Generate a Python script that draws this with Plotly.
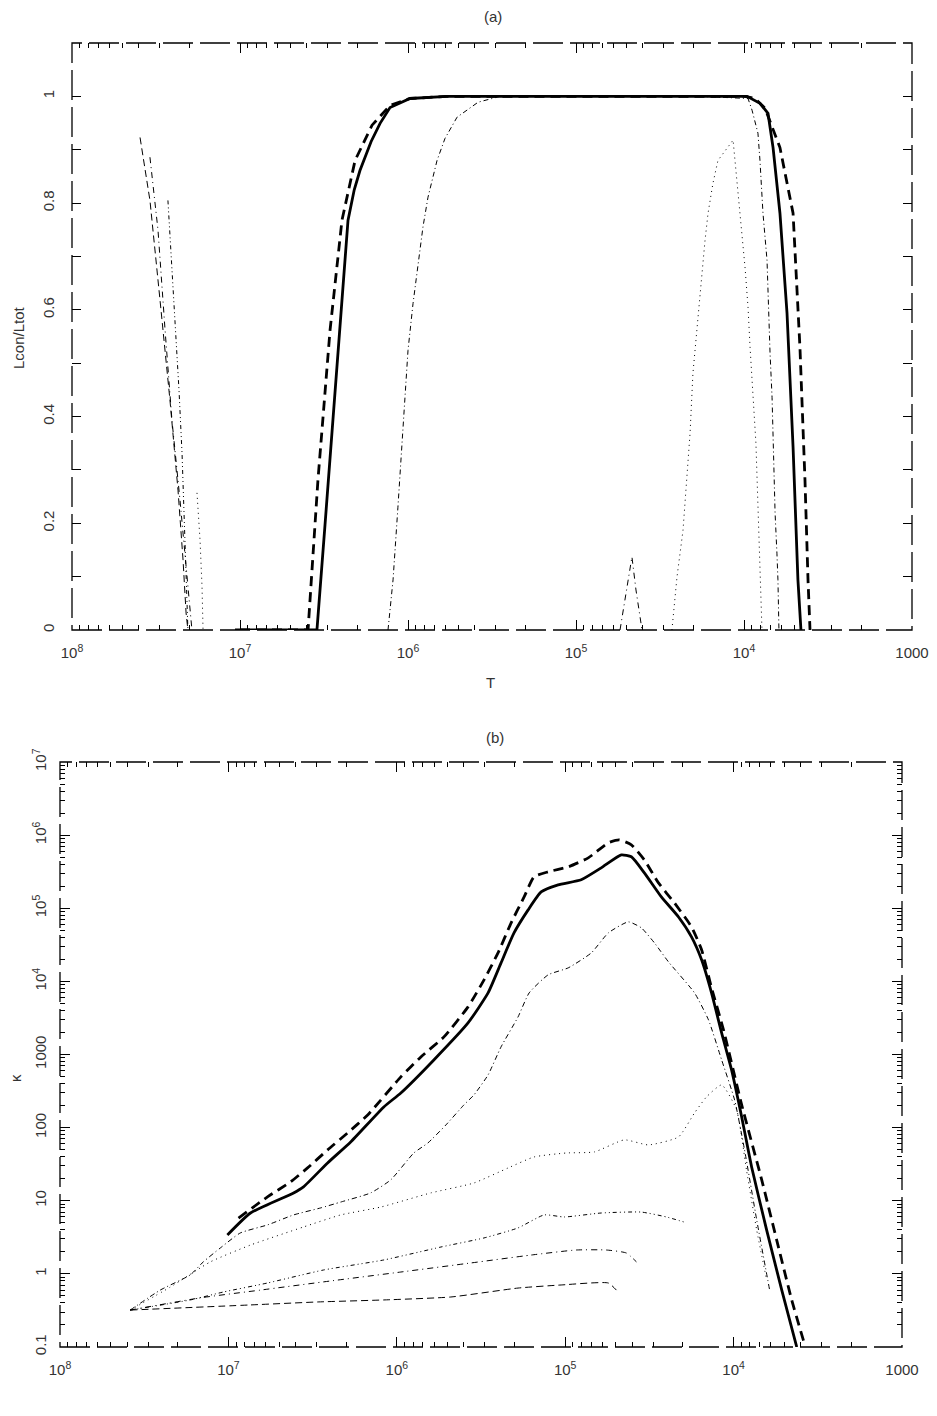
import numpy as np
import plotly.graph_objects as go

# ---------------- Panel (a): Lcon/Ltot versus T (values given as log10 T) ----------------
a_solid_logT = [7.03, 6.542, 6.494, 6.446, 6.357, 6.320, 6.286, 6.220, 6.167, 6.107, 5.988, 5.768, 4.857,
                3.982, 3.905, 3.857, 3.827, 3.786, 3.744, 3.708, 3.679, 3.661]
a_solid_y = [0, 0, 0.197, 0.393, 0.768, 0.825, 0.861, 0.915, 0.949, 0.979, 0.996, 1.0, 1.0,
             1.0, 0.987, 0.968, 0.904, 0.781, 0.594, 0.343, 0.094, 0]

a_dash_logT = [7.0, 6.595, 6.536, 6.464, 6.393, 6.315, 6.214, 6.107, 5.988, 5.768, 4.857,
               3.994, 3.935, 3.875, 3.786, 3.708, 3.667, 3.637, 3.619, 3.607]
a_dash_y = [0, 0, 0.281, 0.562, 0.768, 0.880, 0.946, 0.983, 0.996, 1.0, 1.0,
            1.0, 0.996, 0.978, 0.904, 0.781, 0.530, 0.281, 0.094, 0]

a_P_logT = [6.119, 6.089, 6.060, 6.036, 6.018, 6.000, 5.970, 5.946, 5.911, 5.881, 5.827,
            5.780, 5.708, 5.583, 5.452, 4.262, 3.976, 3.952, 3.917, 3.905, 3.887, 3.863,
            3.857, 3.845, 3.833, 3.827, 3.815, 3.804, 3.798, 3.792]
a_P_y = [0, 0.094, 0.230, 0.343, 0.431, 0.524, 0.612, 0.674, 0.755, 0.811, 0.880,
         0.921, 0.961, 0.989, 1.0, 1.0, 0.996, 0.974, 0.931, 0.880, 0.781, 0.693,
         0.618, 0.519, 0.436, 0.343, 0.219, 0.144, 0.094, 0]

a_Q_logT = [7.256, 7.238, 7.226, 7.220, None, 4.429, 4.399, 4.363, 4.321, 4.304, 4.262,
            4.232, 4.214, 4.185, 4.155, 4.065, 3.994, 3.976, 3.964, 3.946, 3.929, 3.893]
a_Q_y = [0.257, 0.169, 0.081, 0, None, 0, 0.099, 0.187, 0.369, 0.481, 0.631,
         0.730, 0.781, 0.837, 0.880, 0.918, 0.680, 0.605, 0.530, 0.431, 0.350, 0]

a_R_logT = [7.429, 7.405, 7.381, 7.363, 7.345, 7.333, 7.321, 7.310]
a_R_y = [0.805, 0.674, 0.562, 0.449, 0.331, 0.206, 0.094, 0]

a_S_logT = [7.536, 7.488, 7.446, 7.405, 7.357, 7.321, 7.298, 7.286, None,
            4.738, 4.667, 4.643, 4.619, 4.607]
a_S_y = [0.886, 0.749, 0.562, 0.393, 0.243, 0.112, 0.032, 0, None,
         0, 0.137, 0.075, 0.028, 0]

a_T_logT = [7.595, 7.536, 7.476, 7.417, 7.369, 7.339, 7.321, 7.310]
a_T_y = [0.923, 0.805, 0.618, 0.431, 0.262, 0.131, 0.032, 0]

# ---------------- Panel (b): kappa versus T ----------------
b_solid_logT = [7.006, 6.869, 6.613, 6.554, 6.411, 6.274, 6.077, 5.976, 5.780, 5.577, 5.458,
                5.381, 5.304, 5.220, 5.143, 5.042, 4.905, 4.786, 4.667, 4.607, 4.530, 4.429,
                4.327, 4.250, 4.190, 4.131, 4.071, 4.012, 3.952, 3.893, 3.804, 3.714, 3.625]
b_solid_k = [3.4, 6.8, 12.8, 15.5, 32.9, 63.7, 192, 298, 843, 2704, 6960,
             17900, 46000, 95000, 167000, 209000, 245000, 357000, 537000, 505000, 305000, 143000,
             76000, 40600, 19700, 6960, 1974, 615, 140, 29, 4.0, 0.60, 0.10]

b_dash_logT = [6.940, 6.768, 6.631, 6.530, 6.411, 6.292, 6.173, 5.976, 5.857, 5.720, 5.577,
               5.482, 5.399, 5.321, 5.244, 5.185, 5.101, 4.982, 4.863, 4.744, 4.679, 4.607,
               4.530, 4.446, 4.351, 4.250, 4.190, 4.131, 4.060, 3.952, 3.833, 3.744, 3.655, 3.577]
b_dash_k = [5.8, 11.3, 18.1, 28.1, 49.6, 84.6, 149, 494, 927, 1741, 4477,
            10490, 24500, 63100, 143000, 269000, 315000, 368000, 489000, 785000, 862000, 737000,
            459000, 222000, 118000, 55700, 27000, 8150, 2170, 205, 19.3, 2.9, 0.44, 0.106]

b_P_logT = [7.583, 7.405, 7.226, 7.149, 7.048, 6.929, 6.768, 6.613, 6.452, 6.333, 6.155,
            6.036, 5.899, 5.815, 5.708, 5.601, 5.542, 5.458, 5.381, 5.280, 5.214, 5.101,
            4.982, 4.845, 4.744, 4.625, 4.548, 4.470, 4.387, 4.232, 4.149, 4.071, 3.994,
            3.935, 3.863, 3.786]
b_P_k = [0.32, 0.60, 0.97, 1.46, 2.26, 3.63, 4.67, 6.4, 7.98, 9.6, 12.8,
         19.3, 45, 61.8, 109, 205, 280, 526, 1271, 3266, 6960, 12300,
         15300, 24500, 46000, 65100, 54000, 33600, 18500, 6960, 2970, 843, 239,
         49.6, 5.5, 0.60]

b_Q_logT = [7.583, 7.345, 7.107, 6.869, 6.554, 6.333, 6.095, 5.798, 5.542, 5.339, 5.185,
            4.994, 4.827, 4.649, 4.506, 4.327, 4.232, 4.161, 4.071, 3.982, 3.923, 3.863, 3.804]
b_Q_k = [0.32, 0.66, 1.46, 2.48, 4.38, 6.4, 8.2, 12.8, 17.5, 28.1, 39.7,
         45, 46.5, 68, 58, 74.6, 159, 263, 384, 175, 26, 4.0, 0.83]

b_R_logT = [7.583, 7.226, 7.030, 6.768, 6.435, 6.077, 5.738, 5.482, 5.280, 5.125, 5.006,
            4.786, 4.548, 4.399, 4.292]
b_R_k = [0.32, 0.44, 0.565, 0.75, 1.13, 1.55, 2.33, 3.10, 4.25, 6.4, 6.0,
         6.8, 7.0, 6.0, 5.1]

b_S_logT = [7.583, 7.167, 6.810, 6.393, 5.976, 5.560, 5.202, 4.935, 4.756, 4.637, 4.577]
b_S_k = [0.32, 0.47, 0.60, 0.80, 1.06, 1.41, 1.81, 2.12, 2.12, 1.93, 1.46]

b_T_logT = [7.583, 6.869, 6.470, 6.077, 5.679, 5.280, 5.024, 4.744, 4.696]
b_T_k = [0.32, 0.376, 0.413, 0.44, 0.483, 0.64, 0.705, 0.75, 0.60]

x_tick_vals = [1e8, 1e7, 1e6, 1e5, 1e4, 1e3]
x_tick_text = ["10<sup>8</sup>", "10<sup>7</sup>", "10<sup>6</sup>", "10<sup>5</sup>",
               "10<sup>4</sup>", "1000"]
a_y_tick_vals = [0, 0.2, 0.4, 0.6, 0.8, 1.0]
a_y_tick_text = ["0", "0.2", "0.4", "0.6", "0.8", "1"]
b_y_tick_vals = [0.1, 1, 10, 100, 1000, 1e4, 1e5, 1e6, 1e7]
b_y_tick_text = ["0.1", "1", "10", "100", "1000", "10<sup>4</sup>", "10<sup>5</sup>",
                 "10<sup>6</sup>", "10<sup>7</sup>"]


def to_T(vals):
    return [None if v is None else 10 ** v for v in vals]


BLACK = "#000000"
styles = {
    "solid": dict(color=BLACK, width=2.8),
    "dash": dict(color=BLACK, width=2.8, dash="10px,6px"),
    "P": dict(color=BLACK, width=1, dash="5px,3px,1px,3px"),
    "Q": dict(color=BLACK, width=1, dash="1px,4px"),
    "R": dict(color=BLACK, width=1, dash="4px,3px,1px,3px,1px,3px"),
    "S": dict(color=BLACK, width=1, dash="6px,4px,1px,4px"),
    "T": dict(color=BLACK, width=1, dash="7px,4px"),
}

fig = go.Figure()

panel_a = [
    (a_T_logT, a_T_y, "T"), (a_S_logT, a_S_y, "S"), (a_R_logT, a_R_y, "R"),
    (a_Q_logT, a_Q_y, "Q"), (a_P_logT, a_P_y, "P"),
    (a_dash_logT, a_dash_y, "dash"), (a_solid_logT, a_solid_y, "solid"),
]
for lx, yy, st in panel_a:
    fig.add_trace(go.Scatter(x=to_T(lx), y=yy, mode="lines", line=styles[st],
                             xaxis="x", yaxis="y", showlegend=False, connectgaps=False))

panel_b = [
    (b_T_logT, b_T_k, "T"), (b_S_logT, b_S_k, "S"), (b_R_logT, b_R_k, "R"),
    (b_Q_logT, b_Q_k, "Q"), (b_P_logT, b_P_k, "P"),
    (b_dash_logT, b_dash_k, "dash"), (b_solid_logT, b_solid_k, "solid"),
]
for lx, yy, st in panel_b:
    ln = dict(styles[st])
    ln.update(shape="spline", smoothing=0.5)
    fig.add_trace(go.Scatter(x=to_T(lx), y=yy, mode="lines", line=ln,
                             xaxis="x2", yaxis="y2", showlegend=False))

W, H = 937, 1416
FONT = dict(family="Liberation Sans, Arial, sans-serif", size=15, color="#333333")

minor_log_x = [m * 10 ** e for e in range(3, 8) for m in range(2, 10)]
minor_log_y = [m * 10 ** e for e in range(-1, 7) for m in range(2, 10)]

common_axis = dict(showgrid=False, zeroline=False, showline=False, ticks="inside",
                   tickcolor=BLACK, tickwidth=1, mirror="ticks", tickfont=FONT,
                   automargin=False)

fig.update_layout(
    width=W, height=H,
    margin=dict(l=0, r=0, t=0, b=0),
    paper_bgcolor="white", plot_bgcolor="white",
    font=FONT,
    xaxis=dict(domain=[72 / W, 912 / W], type="log", range=[8, 3], anchor="y",
               tickvals=x_tick_vals, ticktext=x_tick_text, ticklen=10,
               ticklabelstandoff=12,
               minor=dict(tickvals=minor_log_x, ticks="inside", ticklen=5,
                          tickcolor=BLACK, showgrid=False),
               **common_axis),
    yaxis=dict(domain=[1 - 630 / H, 1 - 43 / H], range=[0, 1.1], anchor="x",
               tickvals=a_y_tick_vals, ticktext=a_y_tick_text, ticklen=9,
               tickangle=-90, ticklabelstandoff=14,
               minor=dict(dtick=0.1, ticks="inside", ticklen=9, tickcolor=BLACK,
                          showgrid=False),
               **common_axis),
    xaxis2=dict(domain=[60 / W, 902 / W], type="log", range=[8, 3], anchor="y2",
                tickvals=x_tick_vals, ticktext=x_tick_text, ticklen=10,
                ticklabelstandoff=12,
                minor=dict(tickvals=minor_log_x, ticks="inside", ticklen=5,
                           tickcolor=BLACK, showgrid=False),
                **common_axis),
    yaxis2=dict(domain=[1 - 1347 / H, 1 - 762 / H], type="log", range=[-1, 7], anchor="x2",
                tickvals=b_y_tick_vals, ticktext=b_y_tick_text, ticklen=10,
                tickangle=-90, ticklabelstandoff=10,
                minor=dict(tickvals=minor_log_y, ticks="inside", ticklen=5,
                           tickcolor=BLACK, showgrid=False),
                **common_axis),
)

# dashed plot frames (as in the scanned original)
frame_line = dict(color=BLACK, width=1.3, dash="30px,7px")
fig.add_shape(type="rect", xref="x domain", yref="y domain", x0=0, x1=1, y0=0, y1=1,
              line=frame_line, layer="above")
fig.add_shape(type="rect", xref="x2 domain", yref="y2 domain", x0=0, x1=1, y0=0, y1=1,
              line=frame_line, layer="above")

ann = [
    dict(text="(a)", x=493 / W, y=1 - 16 / H),
    dict(text="T", x=490 / W, y=1 - 682 / H),
    dict(text="(b)", x=495 / W, y=1 - 737 / H),
    dict(text="Lcon/Ltot", x=18 / W, y=1 - 338 / H, textangle=-90),
    dict(text="κ", x=15 / W, y=1 - 1078 / H, textangle=-90),
]
for a in ann:
    fig.add_annotation(xref="paper", yref="paper", xanchor="center", yanchor="middle",
                       showarrow=False, font=FONT, **a)

fig.write_html("out.html")
